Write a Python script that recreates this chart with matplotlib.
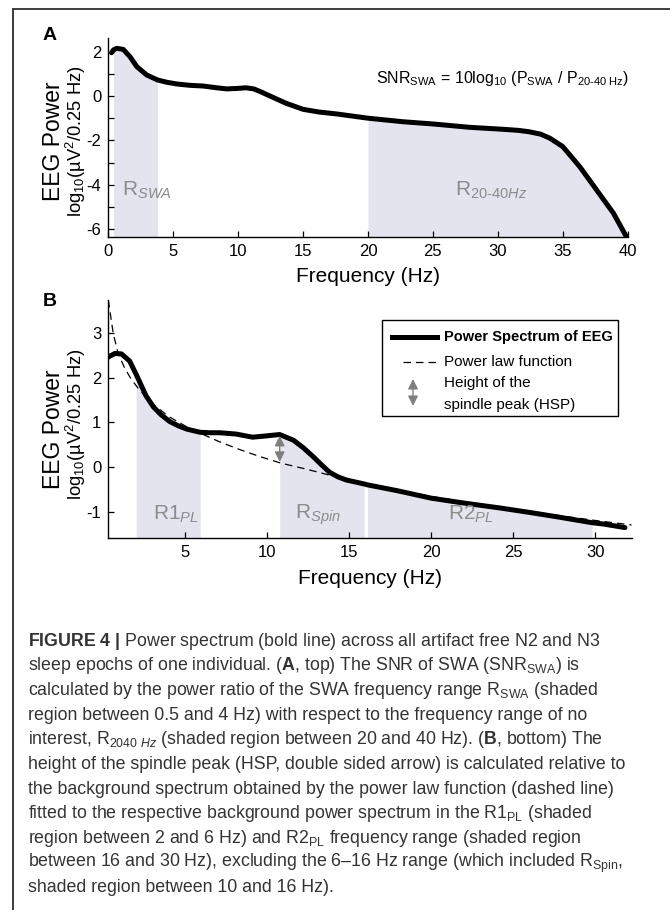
import numpy as np
import matplotlib
matplotlib.use("Agg")
import matplotlib.pyplot as plt
from matplotlib.lines import Line2D
from matplotlib.patches import Rectangle, FancyArrowPatch

# ---- data ----
# panel A: power spectrum 0-40 Hz
freq_a = [0.25, 0.4, 0.65, 1.15, 1.67, 2.2, 2.95, 3.8, 4.5, 5.3, 6.3, 7.3, 8.2, 9.1,
          9.9, 10.6, 11.2, 11.7, 12.45, 13.7, 15.0, 16.2, 17.6, 20.0, 22.7, 25.0,
          27.8, 30.4, 31.6, 32.4, 33.3, 34.0, 35.0, 36.3, 37.6, 38.9, 39.9]
pow_a = [1.95, 2.08, 2.15, 2.1, 1.77, 1.32, 0.95, 0.72, 0.62, 0.54, 0.48, 0.45, 0.38, 0.32,
         0.34, 0.37, 0.32, 0.2, 0.0, -0.33, -0.6, -0.72, -0.81, -1.0, -1.16, -1.26,
         -1.41, -1.5, -1.55, -1.61, -1.72, -1.9, -2.28, -3.18, -4.23, -5.28, -6.34]

# panel B: power spectrum, power law fit
freq_b = [0.25, 0.7, 1.1, 1.6, 2.0, 2.25, 2.6, 3.05, 3.5, 4.05, 4.6, 5.1, 5.9, 6.5, 7.1,
          8.1, 9.1, 9.95, 10.75, 11.6, 12.2, 12.8, 13.3, 13.8, 14.3, 14.8, 15.9, 16.1,
          17.9, 20.0, 22.0, 24.2, 26.0, 27.7, 29.8, 30.5, 31.8]
pow_b = [2.46, 2.55, 2.54, 2.38, 2.08, 1.88, 1.6, 1.35, 1.18, 1.02, 0.92, 0.85, 0.78, 0.77, 0.77,
         0.74, 0.67, 0.70, 0.73, 0.6, 0.43, 0.23, 0.05, -0.12, -0.22, -0.29, -0.38, -0.40,
         -0.53, -0.70, -0.81, -0.92, -1.02, -1.12, -1.25, -1.28, -1.36]
freq_pl = [0.3, 0.6, 0.9, 1.3, 1.7, 2.2, 3.0, 4.0, 5.0, 5.9, 7.0, 8.1, 9.5, 10.8, 12.4,
           14.3, 16.0, 18.0, 20.0, 22.0, 24.0, 26.0, 28.0, 30.0, 32.2]
pow_pl = [3.75, 3.0, 2.55, 2.22, 1.97, 1.73, 1.42, 1.13, 0.92, 0.76, 0.58, 0.42, 0.24, 0.09, -0.05,
          -0.23, -0.38, -0.52, -0.66, -0.78, -0.9, -1.0, -1.1, -1.2, -1.3]

# frequency ranges (Hz)
range_swa = (0.4, 3.8)
range_2040 = (20.0, 40.0)
range_r1 = (2.0, 5.9)
range_spin = (10.0, 15.9)
range_r2 = (16.1, 29.8)
hsp_freq = 10.75

caption = [
    r"$\mathbf{FIGURE\ 4\ |}$ Power spectrum (bold line) across all artifact free N2 and N3",
    r"sleep epochs of one individual. ($\mathbf{A}$, top) The SNR of SWA (SNR$_{\mathregular{SWA}}$) is",
    r"calculated by the power ratio of the SWA frequency range R$_{\mathregular{SWA}}$ (shaded",
    "region between 0.5 and 4 Hz) with respect to the frequency range of no",
    r"interest, R$_{\mathregular{2040}\ \mathit{Hz}}$ (shaded region between 20 and 40 Hz). ($\mathbf{B}$, bottom) The",
    "height of the spindle peak (HSP, double sided arrow) is calculated relative to",
    "the background spectrum obtained by the power law function (dashed line)",
    r"fitted to the respective background power spectrum in the R1$_{\mathregular{PL}}$ (shaded",
    r"region between 2 and 6 Hz) and R2$_{\mathregular{PL}}$ frequency range (shaded region",
    r"between 16 and 30 Hz), excluding the 6–16 Hz range (which included R$_{\mathregular{Spin}}$,",
    "shaded region between 10 and 16 Hz).",
]

# ---- style ----
W, H = 670, 910
shade = "#e3e4ed"
grey_txt = "#8c8c8c"
plt.rcParams["font.family"] = ["Liberation Sans", "DejaVu Sans"]
plt.rcParams["axes.unicode_minus"] = False
plt.rcParams["mathtext.fontset"] = "custom"
plt.rcParams["mathtext.rm"] = "Liberation Sans"
plt.rcParams["mathtext.it"] = "Liberation Sans:italic"
plt.rcParams["mathtext.bf"] = "Liberation Sans:bold"


def fx(x):
    return x / W


def fy(y):
    return 1 - y / H


fig = plt.figure(figsize=(W / 100, H / 100), dpi=100)

# outer frame (top and left rule)
fig.add_artist(Line2D([fx(13), 1], [fy(9), fy(9)], color="#3c3c3c", lw=1.4))
fig.add_artist(Line2D([fx(13), fx(13)], [fy(9), 0], color="#3c3c3c", lw=1.4))

arrow_style = "<|-|>,head_length=0.6,head_width=0.3"


def style_axes(ax):
    for s in ["top", "right"]:
        ax.spines[s].set_visible(False)
    for s in ["left", "bottom"]:
        ax.spines[s].set_linewidth(1.0)
    ax.tick_params(which="both", direction="in", length=4.5, width=0.9, labelsize=12, pad=5)


# ---------------- panel A ----------------
axA = fig.add_axes([fx(108.3), fy(236.7), (627.7 - 108.3) / W, (236.7 - 38.3) / H])
fa = np.array(freq_a)
pa = np.array(pow_a)
yA = (-6.34, 2.6)
for lo, hi in [range_swa, range_2040]:
    m = (fa >= lo) & (fa <= hi)
    axA.fill_between(fa[m], pa[m], yA[0], color=shade, lw=0)
axA.plot(fa, pa, color="black", lw=3.6, solid_capstyle="round")
axA.set_xlim(0, 40)
axA.set_ylim(*yA)
axA.set_xticks(range(0, 41, 5))
axA.set_yticks([-6, -4, -2, 0, 2])
axA.set_yticks([-5, -3, -1, 1], minor=True)
style_axes(axA)
axA.text(1.05, -4.25, r"R$_{\mathit{SWA}}$", color=grey_txt, fontsize=15, va="center")
axA.text(26.7, -4.23, "R$_{\\mathit{20\u201040Hz}}$", color=grey_txt, fontsize=15, va="center")
axA.text(20.6, 0.57,
         "SNR$_{\\mathregular{SWA}}$ = 10log$_{\\mathregular{10}}$ (P$_{\\mathregular{SWA}}$ / "
         "P$_{\\mathregular{20\u201040\\ Hz}}$)",
         fontsize=11.5, va="baseline")

fig.text(fx(50), fy(35), "A", fontsize=14, fontweight="bold", ha="center", va="center")
fig.text(fx(53), fy(141), "EEG Power", fontsize=16.5, rotation=90, ha="center", va="center")
fig.text(fx(76), fy(141), r"log$_{\mathregular{10}}$(µV$^{\mathregular{2}}$/0.25 Hz)", fontsize=13.2,
         rotation=90, ha="center", va="center")
fig.text(fx(368), fy(277), "Frequency (Hz)", fontsize=15, ha="center", va="center")

# ---------------- panel B ----------------
axB = fig.add_axes([fx(108.3), fy(538.3), (631.5 - 108.3) / W, (538.3 - 300) / H])
fb = np.array(freq_b)
pb = np.array(pow_b)
yB = (-1.6, 3.75)
for lo, hi in [range_r1, range_spin, range_r2]:
    m = (fb >= lo) & (fb <= hi)
    axB.fill_between(fb[m], pb[m], yB[0], color=shade, lw=0)
axB.plot(freq_pl, pow_pl, color="black", lw=0.9, dashes=(6, 4))
axB.plot(fb, pb, color="black", lw=3.6, solid_capstyle="round")
hsp_top = pow_b[freq_b.index(hsp_freq)]
hsp_bot = float(np.interp(hsp_freq, freq_pl, pow_pl))
axB.annotate("", xy=(hsp_freq, hsp_top - 0.03), xytext=(hsp_freq, hsp_bot + 0.02),
             arrowprops=dict(arrowstyle=arrow_style, color="#7f7f7f", lw=1.0,
                             shrinkA=0, shrinkB=0, mutation_scale=10))
axB.set_xlim(0.3, 32.2)
axB.set_ylim(*yB)
axB.set_xticks(range(5, 31, 5))
axB.set_yticks([-1, 0, 1, 2, 3])
style_axes(axB)
axB.text(3.0, -1.07, r"R1$_{\mathit{PL}}$", color=grey_txt, fontsize=15, va="center")
axB.text(11.7, -1.07, r"R$_{\mathit{Spin}}$", color=grey_txt, fontsize=15, va="center")
axB.text(21.0, -1.07, r"R2$_{\mathit{PL}}$", color=grey_txt, fontsize=15, va="center")

fig.text(fx(50), fy(302), "B", fontsize=14, fontweight="bold", ha="center", va="center")
fig.text(fx(53), fy(429), "EEG Power", fontsize=16.5, rotation=90, ha="center", va="center")
fig.text(fx(76), fy(424), r"log$_{\mathregular{10}}$(µV$^{\mathregular{2}}$/0.25 Hz)", fontsize=13.2,
         rotation=90, ha="center", va="center")
fig.text(fx(370), fy(579), "Frequency (Hz)", fontsize=15, ha="center", va="center")

# legend box drawn by hand
fig.add_artist(Rectangle((fx(382), fy(416)), (618 - 382) / W, (416 - 320) / H,
                         transform=fig.transFigure, fill=False, ec="black", lw=1.0))
fig.add_artist(Line2D([fx(392), fx(437)], [fy(337), fy(337)], color="black", lw=3.6))
fig.text(fx(444), fy(337), "Power Spectrum of EEG", fontsize=10.5, fontweight="bold",
         va="center")
fig.add_artist(Line2D([fx(403), fx(437)], [fy(362), fy(362)], color="black", lw=0.9,
                      dashes=(6, 4)))
fig.text(fx(444), fy(362), "Power law function", fontsize=11, va="center")
fig.add_artist(FancyArrowPatch(
    (fx(413), fy(406)), (fx(413), fy(379)), transform=fig.transFigure,
    arrowstyle=arrow_style, color="#7f7f7f", lw=1.0, shrinkA=0, shrinkB=0,
    mutation_scale=10))
fig.text(fx(444), fy(383), "Height of the", fontsize=11, va="center")
fig.text(fx(444), fy(405), "spindle peak (HSP)", fontsize=11, va="center")

# ---------------- caption ----------------
for i, line in enumerate(caption):
    fig.text(fx(28), fy(641 + i * 24.7), line, fontsize=12.8, color="#333333", va="center")

fig.savefig("out.png", dpi=100)
